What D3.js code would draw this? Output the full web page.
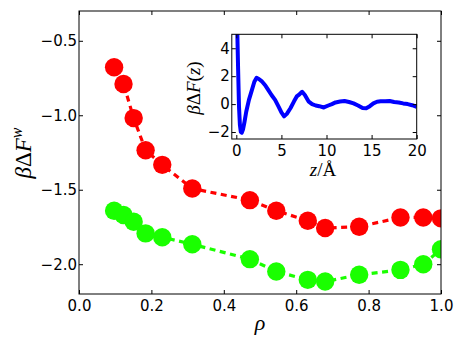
<!DOCTYPE html>
<html><head><meta charset="utf-8">
<script src="https://cdn.jsdelivr.net/npm/d3@7"></script>
<style>
html,body{margin:0;padding:0;background:#fff;}
svg{display:block;}
.tick text{font-family:"DejaVu Sans",sans-serif;font-size:15px;fill:#000;}
.math{font-family:"Liberation Serif","DejaVu Serif",serif;fill:#000;}
</style></head><body>
<svg id="c" width="463" height="348"></svg>
<script>
// ---- data ----
const rho = [0.097, 0.123, 0.151, 0.184, 0.230, 0.313, 0.472, 0.545, 0.632, 0.680, 0.774, 0.888, 0.951, 1.0];
const redF = [-0.678, -0.790, -1.019, -1.235, -1.333, -1.492, -1.570, -1.641, -1.708, -1.757, -1.748, -1.686, -1.686, -1.692];
const greenF = [-1.641, -1.670, -1.715, -1.793, -1.819, -1.866, -1.966, -2.049, -2.105, -2.116, -2.071, -2.038, -2.000, -1.900];
const xTicks = [0.0, 0.2, 0.4, 0.6, 0.8, 1.0];
const yTicks = [-2.0, -1.5, -1.0, -0.5];

const insetZ = [0.0, 0.1, 0.2, 0.3, 0.4, 0.5, 0.6, 0.75, 0.9, 1.1, 1.4, 1.7, 2.0, 2.25, 2.5, 2.8, 3.2, 3.5, 3.9, 4.3, 4.7, 5.0, 5.3, 5.6, 6.0, 6.4, 6.7, 7.0, 7.3, 7.6, 8.0, 8.4, 8.8, 9.2, 9.7, 10.2, 10.6, 11.0, 11.5, 12.0, 12.5, 13.0, 13.5, 14.0, 14.4, 14.8, 15.2, 15.6, 16.0, 16.5, 17.0, 17.5, 18.0, 18.5, 19.0, 19.5, 20.0];
const insetF = [9, 5.5, 2.5, -0.2, -1.5, -2.0, -2.05, -1.8, -1.3, -0.55, 0.3, 0.95, 1.6, 1.88, 1.8, 1.65, 1.35, 1.05, 0.65, 0.3, -0.2, -0.6, -0.88, -0.7, -0.3, 0.2, 0.55, 0.7, 0.88, 0.65, 0.2, 0.0, -0.1, -0.15, -0.24, -0.1, 0.0, 0.12, 0.18, 0.22, 0.15, 0.05, -0.1, -0.28, -0.3, -0.15, 0.05, 0.17, 0.2, 0.2, 0.22, 0.15, 0.12, 0.05, 0.0, -0.08, -0.2];
const insetXTicks = [0, 5, 10, 15, 20];
const insetYTicks = [-2, 0, 2, 4];

// ---- layout ----
const svg = d3.select("#c");
const M = {l:79, r:441, t:11, b:294};
const x = d3.scaleLinear().domain([0,1]).range([M.l, M.r]);
const y = d3.scaleLinear().domain([-2.2,-0.3]).range([M.b, M.t]);

svg.append("clipPath").attr("id","mclip").append("rect")
  .attr("x",M.l).attr("y",M.t).attr("width",M.r-M.l).attr("height",M.b-M.t);

const fmt1 = d3.format(".1f");
function axes(g, xs, ys, xt, yt, xf, yf, L){
  g.append("g").attr("transform",`translate(0,${L.b})`)
   .call(d3.axisBottom(xs).tickValues(xt).tickFormat(xf).tickSizeInner(-4).tickSizeOuter(0).tickPadding(6))
   .call(a=>{a.select(".domain").remove(); a.selectAll("line").attr("stroke","#000");});
  g.append("g").attr("transform",`translate(0,${L.t})`)
   .call(d3.axisTop(xs).tickValues(xt).tickFormat("").tickSizeInner(-4).tickSizeOuter(0))
   .call(a=>{a.select(".domain").remove(); a.selectAll("line").attr("stroke","#000");});
  g.append("g").attr("transform",`translate(${L.l},0)`)
   .call(d3.axisLeft(ys).tickValues(yt).tickFormat(yf).tickSizeInner(-4).tickSizeOuter(0).tickPadding(2))
   .call(a=>{a.select(".domain").remove(); a.selectAll("line").attr("stroke","#000");});
  g.append("g").attr("transform",`translate(${L.r},0)`)
   .call(d3.axisRight(ys).tickValues(yt).tickFormat("").tickSizeInner(-4).tickSizeOuter(0))
   .call(a=>{a.select(".domain").remove(); a.selectAll("line").attr("stroke","#000");});
  g.append("rect").attr("x",L.l).attr("y",L.t).attr("width",L.r-L.l).attr("height",L.b-L.t)
   .attr("fill","none").attr("stroke","#000").attr("stroke-width",1);
}

// main series
const mainG = svg.append("g").attr("clip-path","url(#mclip)");
function series(vals, color){
  const pts = rho.map((r,i)=>[r, vals[i]]);
  mainG.append("path").datum(pts)
    .attr("d", d3.line().x(d=>x(d[0])).y(d=>y(d[1])))
    .attr("fill","none").attr("stroke",color).attr("stroke-width",3.2)
    .attr("stroke-dasharray","6,4.5");
  mainG.selectAll(null).data(pts).enter().append("circle")
    .attr("cx",d=>x(d[0])).attr("cy",d=>y(d[1])).attr("r",9.2).attr("fill",color);
}
series(redF, "#ff0000");
series(greenF, "#1aff00");

axes(svg, x, y, xTicks, yTicks, fmt1, fmt1, M);

// main labels
svg.append("text").attr("class","math").attr("x",260).attr("y",330)
  .attr("text-anchor","middle").attr("font-size",22).attr("font-style","italic").text("ρ");
const yl = svg.append("text").attr("class","math").attr("font-size",23)
  .attr("transform","translate(31,153) rotate(-90)").attr("text-anchor","middle");
yl.append("tspan").attr("font-style","italic").text("β");
yl.append("tspan").text("Δ");
yl.append("tspan").attr("font-style","italic").text("F");
yl.append("tspan").attr("font-style","italic").attr("font-size",16).attr("dy",-9).text("w");

// ---- inset ----
const I = {l:231.8, r:416.7, t:34.3, b:139};
const xi = d3.scaleLinear().domain([-0.5,20]).range([I.l, I.r]);
const yi = d3.scaleLinear().domain([-2.5,5]).range([I.b, I.t]);
svg.append("rect").attr("x",I.l).attr("y",I.t).attr("width",I.r-I.l).attr("height",I.b-I.t).attr("fill","#fff");
svg.append("clipPath").attr("id","iclip").append("rect")
  .attr("x",I.l).attr("y",I.t).attr("width",I.r-I.l).attr("height",I.b-I.t);
svg.append("g").attr("clip-path","url(#iclip)").append("path")
  .datum(insetZ.map((z,i)=>[z, insetF[i]]))
  .attr("d", d3.line().x(d=>xi(d[0])).y(d=>yi(d[1])))
  .attr("fill","none").attr("stroke","#0000ff").attr("stroke-width",4).attr("stroke-linejoin","round");
axes(svg, xi, yi, insetXTicks, insetYTicks, d3.format("d"), d3.format("d"), I);

const il = svg.append("text").attr("class","math").attr("font-size",19)
  .attr("transform","translate(200,88) rotate(-90)").attr("text-anchor","middle");
il.append("tspan").attr("font-style","italic").text("β");
il.append("tspan").text("Δ");
il.append("tspan").attr("font-style","italic").text("F");
il.append("tspan").text("(");
il.append("tspan").attr("font-style","italic").text("z");
il.append("tspan").text(")");

const xl = svg.append("text").attr("class","math").attr("font-size",19)
  .attr("x",323).attr("y",176).attr("text-anchor","middle");
xl.append("tspan").attr("font-style","italic").text("z");
xl.append("tspan").text("/Å");
</script>
</body></html>
